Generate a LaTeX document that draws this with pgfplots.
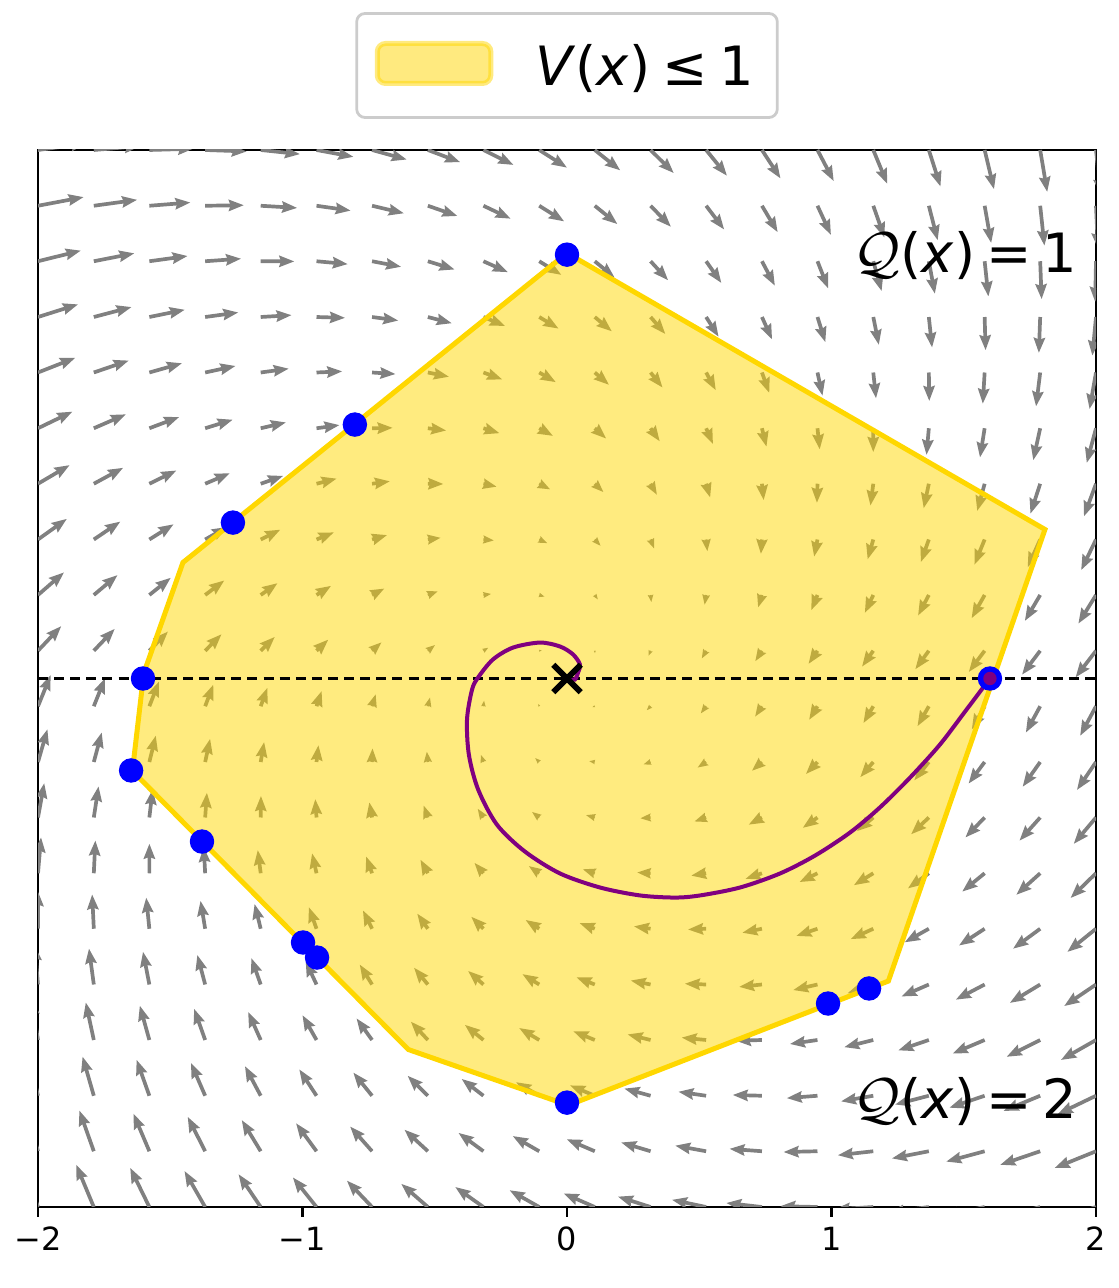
\documentclass[border=0pt]{standalone}
\usepackage{pgfplots}
\pgfplotsset{compat=1.18}
\usepackage{fontspec}
\setmainfont{DejaVu Sans}
\usetikzlibrary{arrows.meta}
\definecolor{gold}{RGB}{255,215,0}
\definecolor{mplpurple}{RGB}{128,0,128}
\definecolor{legendgray}{RGB}{204,204,204}
\begin{document}
\begin{tikzpicture}
\begin{axis}[
  at={(0pt,0pt)}, anchor=south west,
  scale only axis, width=380.88pt, height=380.52pt,
  xmin=-2, xmax=2, ymin=-2, ymax=2,
  xtick={-2,-1,0,1,2},
  xticklabels={−2,−1,0,1,2},
  ytick=\empty,
  xtick pos=left,
  tick align=outside,
  major tick length=3.6pt,
  tick style={line width=0.8pt, black},
  axis line style={line width=0.9pt},
  xticklabel style={font=\fontsize{11.5}{14}\selectfont},
  legend style={at={(0.5,1)}, anchor=south, yshift=11.2pt,
    draw=legendgray, line width=1pt, rounded corners=3pt,
    inner xsep=0pt, inner ysep=9.9pt,
    nodes={inner sep=0pt},
    font=\fontsize{19.5}{23}\selectfont},
]
% vector field
\addplot[forget plot, draw=gray,
  -{Stealth[length=0pt 4.06, width=0pt 3.0, inset=0pt 0.45]},
  point meta={min(1,sqrt((\thisrow{u})*(\thisrow{u})+(\thisrow{v})*(\thisrow{v}))/15)},
  point meta min=0, point meta max=1,
  quiver={u=\thisrow{u}, v=\thisrow{v}, scale arrows=0.003782,
    every arrow/.append style={line width=1.33pt*\pgfplotspointmetatransformed/1000}}]
table {
x y u v
-2 -2 -16.15 45.6
-1.789 -2 -17.65 42.4
-1.579 -2 -19.15 39.2
-1.368 -2 -20.65 36.0
-1.158 -2 -22.15 32.8
-0.947 -2 -23.65 29.6
-0.737 -2 -25.15 26.4
-0.526 -2 -26.65 23.2
-0.316 -2 -28.15 20.0
-0.105 -2 -29.65 16.8
0.105 -2 -31.15 13.6
0.316 -2 -32.65 10.4
0.526 -2 -34.15 7.2
0.737 -2 -35.65 4.0
0.947 -2 -37.15 0.8
1.158 -2 -38.65 -2.4
1.368 -2 -40.15 -5.6
1.579 -2 -41.65 -8.8
1.789 -2 -43.15 -12.0
2 -2 -44.65 -15.2
-2 -1.789 -12.95 44.0
-1.789 -1.789 -14.45 40.8
-1.579 -1.789 -15.95 37.6
-1.368 -1.789 -17.45 34.4
-1.158 -1.789 -18.95 31.2
-0.947 -1.789 -20.45 28.0
-0.737 -1.789 -21.95 24.8
-0.526 -1.789 -23.45 21.6
-0.316 -1.789 -24.95 18.4
-0.105 -1.789 -26.45 15.2
0.105 -1.789 -27.95 12.0
0.316 -1.789 -29.45 8.8
0.526 -1.789 -30.95 5.6
0.737 -1.789 -32.45 2.4
0.947 -1.789 -33.95 -0.8
1.158 -1.789 -35.45 -4.0
1.368 -1.789 -36.95 -7.2
1.579 -1.789 -38.45 -10.4
1.789 -1.789 -39.95 -13.6
2 -1.789 -41.45 -16.8
-2 -1.579 -9.75 42.4
-1.789 -1.579 -11.25 39.2
-1.579 -1.579 -12.75 36.0
-1.368 -1.579 -14.25 32.8
-1.158 -1.579 -15.75 29.6
-0.947 -1.579 -17.25 26.4
-0.737 -1.579 -18.75 23.2
-0.526 -1.579 -20.25 20.0
-0.316 -1.579 -21.75 16.8
-0.105 -1.579 -23.25 13.6
0.105 -1.579 -24.75 10.4
0.316 -1.579 -26.25 7.2
0.526 -1.579 -27.75 4.0
0.737 -1.579 -29.25 0.8
0.947 -1.579 -30.75 -2.4
1.158 -1.579 -32.25 -5.6
1.368 -1.579 -33.75 -8.8
1.579 -1.579 -35.25 -12.0
1.789 -1.579 -36.75 -15.2
2 -1.579 -38.25 -18.4
-2 -1.368 -6.55 40.8
-1.789 -1.368 -8.05 37.6
-1.579 -1.368 -9.55 34.4
-1.368 -1.368 -11.05 31.2
-1.158 -1.368 -12.55 28.0
-0.947 -1.368 -14.05 24.8
-0.737 -1.368 -15.55 21.6
-0.526 -1.368 -17.05 18.4
-0.316 -1.368 -18.55 15.2
-0.105 -1.368 -20.05 12.0
0.105 -1.368 -21.55 8.8
0.316 -1.368 -23.05 5.6
0.526 -1.368 -24.55 2.4
0.737 -1.368 -26.05 -0.8
0.947 -1.368 -27.55 -4.0
1.158 -1.368 -29.05 -7.2
1.368 -1.368 -30.55 -10.4
1.579 -1.368 -32.05 -13.6
1.789 -1.368 -33.55 -16.8
2 -1.368 -35.05 -20.0
-2 -1.158 -3.35 39.2
-1.789 -1.158 -4.85 36.0
-1.579 -1.158 -6.35 32.8
-1.368 -1.158 -7.85 29.6
-1.158 -1.158 -9.35 26.4
-0.947 -1.158 -10.85 23.2
-0.737 -1.158 -12.35 20.0
-0.526 -1.158 -13.85 16.8
-0.316 -1.158 -15.35 13.6
-0.105 -1.158 -16.85 10.4
0.105 -1.158 -18.35 7.2
0.316 -1.158 -19.85 4.0
0.526 -1.158 -21.35 0.8
0.737 -1.158 -22.85 -2.4
0.947 -1.158 -24.35 -5.6
1.158 -1.158 -25.85 -8.8
1.368 -1.158 -27.35 -12.0
1.579 -1.158 -28.85 -15.2
1.789 -1.158 -30.35 -18.4
2 -1.158 -31.85 -21.6
-2 -0.947 -0.15 37.6
-1.789 -0.947 -1.65 34.4
-1.579 -0.947 -3.15 31.2
-1.368 -0.947 -4.65 28.0
-1.158 -0.947 -6.15 24.8
-0.947 -0.947 -7.65 21.6
-0.737 -0.947 -9.15 18.4
-0.526 -0.947 -10.65 15.2
-0.316 -0.947 -12.15 12.0
-0.105 -0.947 -13.65 8.8
0.105 -0.947 -15.15 5.6
0.316 -0.947 -16.65 2.4
0.526 -0.947 -18.15 -0.8
0.737 -0.947 -19.65 -4.0
0.947 -0.947 -21.15 -7.2
1.158 -0.947 -22.65 -10.4
1.368 -0.947 -24.15 -13.6
1.579 -0.947 -25.65 -16.8
1.789 -0.947 -27.15 -20.0
2 -0.947 -28.65 -23.2
-2 -0.737 3.05 36.0
-1.789 -0.737 1.55 32.8
-1.579 -0.737 0.05 29.6
-1.368 -0.737 -1.45 26.4
-1.158 -0.737 -2.95 23.2
-0.947 -0.737 -4.45 20.0
-0.737 -0.737 -5.95 16.8
-0.526 -0.737 -7.45 13.6
-0.316 -0.737 -8.95 10.4
-0.105 -0.737 -10.45 7.2
0.105 -0.737 -11.95 4.0
0.316 -0.737 -13.45 0.8
0.526 -0.737 -14.95 -2.4
0.737 -0.737 -16.45 -5.6
0.947 -0.737 -17.95 -8.8
1.158 -0.737 -19.45 -12.0
1.368 -0.737 -20.95 -15.2
1.579 -0.737 -22.45 -18.4
1.789 -0.737 -23.95 -21.6
2 -0.737 -25.45 -24.8
-2 -0.526 6.25 34.4
-1.789 -0.526 4.75 31.2
-1.579 -0.526 3.25 28.0
-1.368 -0.526 1.75 24.8
-1.158 -0.526 0.25 21.6
-0.947 -0.526 -1.25 18.4
-0.737 -0.526 -2.75 15.2
-0.526 -0.526 -4.25 12.0
-0.316 -0.526 -5.75 8.8
-0.105 -0.526 -7.25 5.6
0.105 -0.526 -8.75 2.4
0.316 -0.526 -10.25 -0.8
0.526 -0.526 -11.75 -4.0
0.737 -0.526 -13.25 -7.2
0.947 -0.526 -14.75 -10.4
1.158 -0.526 -16.25 -13.6
1.368 -0.526 -17.75 -16.8
1.579 -0.526 -19.25 -20.0
1.789 -0.526 -20.75 -23.2
2 -0.526 -22.25 -26.4
-2 -0.316 9.45 32.8
-1.789 -0.316 7.95 29.6
-1.579 -0.316 6.45 26.4
-1.368 -0.316 4.95 23.2
-1.158 -0.316 3.45 20.0
-0.947 -0.316 1.95 16.8
-0.737 -0.316 0.45 13.6
-0.526 -0.316 -1.05 10.4
-0.316 -0.316 -2.55 7.2
-0.105 -0.316 -4.05 4.0
0.105 -0.316 -5.55 0.8
0.316 -0.316 -7.05 -2.4
0.526 -0.316 -8.55 -5.6
0.737 -0.316 -10.05 -8.8
0.947 -0.316 -11.55 -12.0
1.158 -0.316 -13.05 -15.2
1.368 -0.316 -14.55 -18.4
1.579 -0.316 -16.05 -21.6
1.789 -0.316 -17.55 -24.8
2 -0.316 -19.05 -28.0
-2 -0.105 12.65 31.2
-1.789 -0.105 11.15 28.0
-1.579 -0.105 9.65 24.8
-1.368 -0.105 8.15 21.6
-1.158 -0.105 6.65 18.4
-0.947 -0.105 5.15 15.2
-0.737 -0.105 3.65 12.0
-0.526 -0.105 2.15 8.8
-0.316 -0.105 0.65 5.6
-0.105 -0.105 -0.85 2.4
0.105 -0.105 -2.35 -0.8
0.316 -0.105 -3.85 -4.0
0.526 -0.105 -5.35 -7.2
0.737 -0.105 -6.85 -10.4
0.947 -0.105 -8.35 -13.6
1.158 -0.105 -9.85 -16.8
1.368 -0.105 -11.35 -20.0
1.579 -0.105 -12.85 -23.2
1.789 -0.105 -14.35 -26.4
2 -0.105 -15.85 -29.6
-2 0.105 23.25 24.65
-1.789 0.105 20.95 21.95
-1.579 0.105 18.65 19.25
-1.368 0.105 16.35 16.55
-1.158 0.105 14.05 13.85
-0.947 0.105 11.75 11.15
-0.737 0.105 9.45 8.45
-0.526 0.105 7.15 5.75
-0.316 0.105 4.85 3.05
-0.105 0.105 2.55 0.35
0.105 0.105 0.25 -2.35
0.316 0.105 -2.05 -5.05
0.526 0.105 -4.35 -7.75
0.737 0.105 -6.65 -10.45
0.947 0.105 -8.95 -13.15
1.158 0.105 -11.25 -15.85
1.368 0.105 -13.55 -18.55
1.579 0.105 -15.85 -21.25
1.789 0.105 -18.15 -23.95
2 0.105 -20.45 -26.65
-2 0.316 26.05 22.65
-1.789 0.316 23.75 19.95
-1.579 0.316 21.45 17.25
-1.368 0.316 19.15 14.55
-1.158 0.316 16.85 11.85
-0.947 0.316 14.55 9.15
-0.737 0.316 12.25 6.45
-0.526 0.316 9.95 3.75
-0.316 0.316 7.65 1.05
-0.105 0.316 5.35 -1.65
0.105 0.316 3.05 -4.35
0.316 0.316 0.75 -7.05
0.526 0.316 -1.55 -9.75
0.737 0.316 -3.85 -12.45
0.947 0.316 -6.15 -15.15
1.158 0.316 -8.45 -17.85
1.368 0.316 -10.75 -20.55
1.579 0.316 -13.05 -23.25
1.789 0.316 -15.35 -25.95
2 0.316 -17.65 -28.65
-2 0.526 28.85 20.65
-1.789 0.526 26.55 17.95
-1.579 0.526 24.25 15.25
-1.368 0.526 21.95 12.55
-1.158 0.526 19.65 9.85
-0.947 0.526 17.35 7.15
-0.737 0.526 15.05 4.45
-0.526 0.526 12.75 1.75
-0.316 0.526 10.45 -0.95
-0.105 0.526 8.15 -3.65
0.105 0.526 5.85 -6.35
0.316 0.526 3.55 -9.05
0.526 0.526 1.25 -11.75
0.737 0.526 -1.05 -14.45
0.947 0.526 -3.35 -17.15
1.158 0.526 -5.65 -19.85
1.368 0.526 -7.95 -22.55
1.579 0.526 -10.25 -25.25
1.789 0.526 -12.55 -27.95
2 0.526 -14.85 -30.65
-2 0.737 31.65 18.65
-1.789 0.737 29.35 15.95
-1.579 0.737 27.05 13.25
-1.368 0.737 24.75 10.55
-1.158 0.737 22.45 7.85
-0.947 0.737 20.15 5.15
-0.737 0.737 17.85 2.45
-0.526 0.737 15.55 -0.25
-0.316 0.737 13.25 -2.95
-0.105 0.737 10.95 -5.65
0.105 0.737 8.65 -8.35
0.316 0.737 6.35 -11.05
0.526 0.737 4.05 -13.75
0.737 0.737 1.75 -16.45
0.947 0.737 -0.55 -19.15
1.158 0.737 -2.85 -21.85
1.368 0.737 -5.15 -24.55
1.579 0.737 -7.45 -27.25
1.789 0.737 -9.75 -29.95
2 0.737 -12.05 -32.65
-2 0.947 34.45 16.65
-1.789 0.947 32.15 13.95
-1.579 0.947 29.85 11.25
-1.368 0.947 27.55 8.55
-1.158 0.947 25.25 5.85
-0.947 0.947 22.95 3.15
-0.737 0.947 20.65 0.45
-0.526 0.947 18.35 -2.25
-0.316 0.947 16.05 -4.95
-0.105 0.947 13.75 -7.65
0.105 0.947 11.45 -10.35
0.316 0.947 9.15 -13.05
0.526 0.947 6.85 -15.75
0.737 0.947 4.55 -18.45
0.947 0.947 2.25 -21.15
1.158 0.947 -0.05 -23.85
1.368 0.947 -2.35 -26.55
1.579 0.947 -4.65 -29.25
1.789 0.947 -6.95 -31.95
2 0.947 -9.25 -34.65
-2 1.158 37.25 14.65
-1.789 1.158 34.95 11.95
-1.579 1.158 32.65 9.25
-1.368 1.158 30.35 6.55
-1.158 1.158 28.05 3.85
-0.947 1.158 25.75 1.15
-0.737 1.158 23.45 -1.55
-0.526 1.158 21.15 -4.25
-0.316 1.158 18.85 -6.95
-0.105 1.158 16.55 -9.65
0.105 1.158 14.25 -12.35
0.316 1.158 11.95 -15.05
0.526 1.158 9.65 -17.75
0.737 1.158 7.35 -20.45
0.947 1.158 5.05 -23.15
1.158 1.158 2.75 -25.85
1.368 1.158 0.45 -28.55
1.579 1.158 -1.85 -31.25
1.789 1.158 -4.15 -33.95
2 1.158 -6.45 -36.65
-2 1.368 40.05 12.65
-1.789 1.368 37.75 9.95
-1.579 1.368 35.45 7.25
-1.368 1.368 33.15 4.55
-1.158 1.368 30.85 1.85
-0.947 1.368 28.55 -0.85
-0.737 1.368 26.25 -3.55
-0.526 1.368 23.95 -6.25
-0.316 1.368 21.65 -8.95
-0.105 1.368 19.35 -11.65
0.105 1.368 17.05 -14.35
0.316 1.368 14.75 -17.05
0.526 1.368 12.45 -19.75
0.737 1.368 10.15 -22.45
0.947 1.368 7.85 -25.15
1.158 1.368 5.55 -27.85
1.368 1.368 3.25 -30.55
1.579 1.368 0.95 -33.25
1.789 1.368 -1.35 -35.95
2 1.368 -3.65 -38.65
-2 1.579 42.85 10.65
-1.789 1.579 40.55 7.95
-1.579 1.579 38.25 5.25
-1.368 1.579 35.95 2.55
-1.158 1.579 33.65 -0.15
-0.947 1.579 31.35 -2.85
-0.737 1.579 29.05 -5.55
-0.526 1.579 26.75 -8.25
-0.316 1.579 24.45 -10.95
-0.105 1.579 22.15 -13.65
0.105 1.579 19.85 -16.35
0.316 1.579 17.55 -19.05
0.526 1.579 15.25 -21.75
0.737 1.579 12.95 -24.45
0.947 1.579 10.65 -27.15
1.158 1.579 8.35 -29.85
1.368 1.579 6.05 -32.55
1.579 1.579 3.75 -35.25
1.789 1.579 1.45 -37.95
2 1.579 -0.85 -40.65
-2 1.789 45.65 8.65
-1.789 1.789 43.35 5.95
-1.579 1.789 41.05 3.25
-1.368 1.789 38.75 0.55
-1.158 1.789 36.45 -2.15
-0.947 1.789 34.15 -4.85
-0.737 1.789 31.85 -7.55
-0.526 1.789 29.55 -10.25
-0.316 1.789 27.25 -12.95
-0.105 1.789 24.95 -15.65
0.105 1.789 22.65 -18.35
0.316 1.789 20.35 -21.05
0.526 1.789 18.05 -23.75
0.737 1.789 15.75 -26.45
0.947 1.789 13.45 -29.15
1.158 1.789 11.15 -31.85
1.368 1.789 8.85 -34.55
1.579 1.789 6.55 -37.25
1.789 1.789 4.25 -39.95
2 1.789 1.95 -42.65
-2 2 48.45 6.65
-1.789 2 46.15 3.95
-1.579 2 43.85 1.25
-1.368 2 41.55 -1.45
-1.158 2 39.25 -4.15
-0.947 2 36.95 -6.85
-0.737 2 34.65 -9.55
-0.526 2 32.35 -12.25
-0.316 2 30.05 -14.95
-0.105 2 27.75 -17.65
0.105 2 25.45 -20.35
0.316 2 23.15 -23.05
0.526 2 20.85 -25.75
0.737 2 18.55 -28.45
0.947 2 16.25 -31.15
1.158 2 13.95 -33.85
1.368 2 11.65 -36.55
1.579 2 9.35 -39.25
1.789 2 7.05 -41.95
2 2 4.75 -44.65
};
% sublevel set V(x) <= 1
\addplot[fill=gold, fill opacity=0.5, draw=gold, draw opacity=1, line width=1.8pt, line join=miter,
  legend image code/.code={
    \path[draw=none, fill=none] (0pt,0pt) -- (64.4pt,0pt);
    \draw[fill=gold, fill opacity=0.5, draw=gold, draw opacity=0.5, line width=1.8pt]
      (7.4pt,-5.8pt) rectangle (48.3pt,8.6pt);
  }]
coordinates {
(0,1.61) (1.807,0.564) (1.215,-1.145) (0.005,-1.615) (-0.600,-1.404)
(-1.643,-0.35) (-1.60,0.02) (-1.452,0.439)
} -- cycle;
\addlegendentry{\textit{V}(\textit{x})\hspace{0.22em}≤\hspace{0.22em}1\kern8.3pt}
% switching line
\addplot[forget plot, black, line width=1.08pt, dash pattern=on 3.6pt off 2.2pt]
coordinates {(-2,0) (2,0)};
% sampled points
\addplot[forget plot, only marks, mark=*, mark size=4.2pt, color=blue, mark options={fill=blue, draw=blue}]
coordinates {
(0,1.604) (-0.802,0.961) (-1.263,0.590) (-1.603,0) (-1.648,-0.348)
(-1.380,-0.617) (-0.998,-0.999) (-0.945,-1.056) (0,-1.605)
(0.987,-1.230) (1.142,-1.173) (1.599,0)
};
% trajectory
\addplot[forget plot, mplpurple, line width=1.44pt, smooth, tension=0.5]
coordinates {
(1.599,0) (1.505,-0.125) (1.410,-0.250) (1.297,-0.375) (1.183,-0.488)
(1.070,-0.583) (0.938,-0.670) (0.805,-0.738) (0.654,-0.791) (0.503,-0.821)
(0.408,-0.829) (0.276,-0.821) (0.125,-0.791) (-0.026,-0.738) (-0.159,-0.655)
(-0.265,-0.553) (-0.336,-0.420) (-0.371,-0.288) (-0.378,-0.155) (-0.359,-0.042)
(-0.336,0.004) (-0.280,0.072) (-0.204,0.117) (-0.102,0.136) (-0.026,0.121)
(0.023,0.091) (0.049,0.053) (0.042,0.023) (0.030,-0.004) (0.01,-0.002) (0,0)
};
\addplot[forget plot, only marks, mark=*, mark size=2.2pt, color=mplpurple, mark options={fill=mplpurple, draw=mplpurple}]
coordinates {(1.599,0)};
% equilibrium
\addplot[forget plot, only marks, mark=x, mark size=7pt, black, mark options={line width=2.1pt}]
coordinates {(0,0)};
\node[anchor=east, inner sep=0pt, font=\fontsize{19.5}{23}\selectfont] at (axis cs:1.93,1.6) {$\mathcal{Q}$(\textit{x})\hspace{0.2em}=\hspace{0.2em}1};
\node[anchor=east, inner sep=0pt, font=\fontsize{19.5}{23}\selectfont] at (axis cs:1.93,-1.6) {$\mathcal{Q}$(\textit{x})\hspace{0.2em}=\hspace{0.2em}2};
\end{axis}
\pgfresetboundingbox
\path[use as bounding box] (-13.68pt,-29.16pt) rectangle (388.8pt,434.52pt);
\end{tikzpicture}
\end{document}
